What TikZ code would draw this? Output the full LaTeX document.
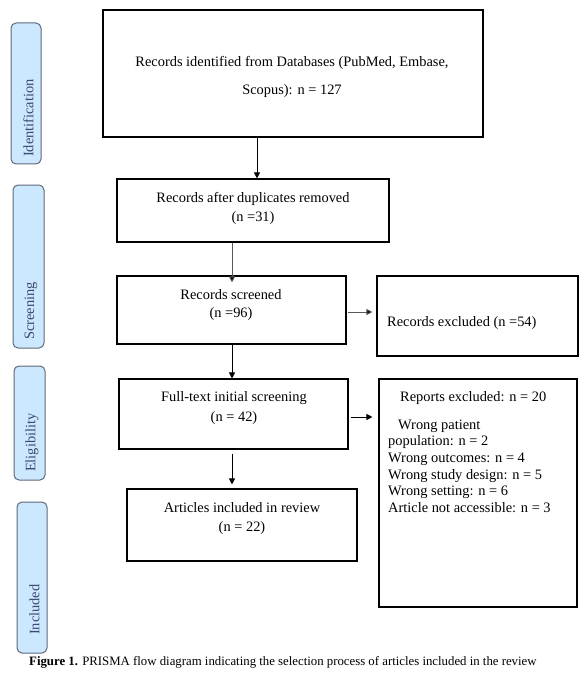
\documentclass[tikz,border=0pt]{standalone}
\usepackage{fontspec}
\setmainfont{Liberation Serif}
\usetikzlibrary{arrows.meta}
\definecolor{sideblue}{HTML}{CCE8FF}
\definecolor{sideedge}{HTML}{5F6A78}
\definecolor{sidetext}{HTML}{3A4770}
\begin{document}
\begin{tikzpicture}[x=1pt,y=-1pt,
  box/.style={draw, line width=1.1pt, inner sep=0pt, rectangle},
  side/.style={draw=sideedge, fill=sideblue, rounded corners=5pt, line width=1pt, inner sep=0pt, rectangle},
  sidetxt/.style={rotate=90, anchor=west, text=sidetext, font=\fontsize{14.4}{17}\selectfont, inner sep=0pt},
  txt/.style={anchor=base, font=\fontsize{14.4}{17}\selectfont, inner sep=0pt},
  ltxt/.style={anchor=base west, font=\fontsize{14.4}{17}\selectfont, inner sep=0pt},
  arr/.style={-{Triangle[length=6pt,width=6pt]}, line width=1pt},
  garr/.style={arr, draw=black!65, -{Triangle[length=6pt,width=6pt, fill=black]}}]
\useasboundingbox (0,0) rectangle (588,679);
\fill[white] (0,0) rectangle (588,679);

% side labels
\node[side, minimum width=30pt, minimum height=141pt] (s1) at (26,93.5) {};
\node[side, minimum width=31pt, minimum height=163pt] (s2) at (28.5,266.5) {};
\node[side, minimum width=31pt, minimum height=114pt] (s3) at (29.5,423) {};
\node[side, minimum width=30pt, minimum height=151pt] (s4) at (32,577.5) {};
\node[sidetxt] (s1t) at (28.5,157) {Identification};
\node[sidetxt] (s2t) at (31,340) {Screening};
\node[sidetxt] (s3t) at (32,472) {Eligibility};
\node[sidetxt] (s4t) at (34.5,635) {Included};

% main boxes
\node[box, minimum width=380pt, minimum height=127pt] (b1) at (293,73.5) {};
\node[box, minimum width=272pt, minimum height=63pt] (b2) at (253,210.5) {};
\node[box, minimum width=229pt, minimum height=68pt] (b3) at (231.5,310) {};
\node[box, minimum width=201pt, minimum height=80pt] (ex) at (477.5,316) {};
\node[box, minimum width=229pt, minimum height=70pt] (b4) at (233.5,414) {};
\node[box, minimum width=230pt, minimum height=72pt] (b5) at (242,525) {};
\node[box, minimum width=198pt, minimum height=228pt] (rep) at (478,493) {};

% texts
\node[txt] (b1a) at (292,67) {Records identified from Databases (PubMed, Embase,};
\node[txt] (b1b) at (292,94.5) {Scopus): n = 127};
\node[txt] (b2a) at (253,202.5) {Records after duplicates removed};
\node[txt] (b2b) at (253,221) {(n =31)};
\node[txt] (b3a) at (231,299) {Records screened};
\node[txt] (b3b) at (231,317.5) {(n =96)};
\node[ltxt] (exa) at (387,326.7) {Records excluded (n =54)};
\node[txt] (b4a) at (234,401.7) {Full-text initial screening};
\node[txt] (b4b) at (234,421) {(n = 42)};
\node[txt] (b5a) at (242,512.7) {Articles included in review};
\node[txt] (b5b) at (242,531) {(n = 22)};
\node[ltxt] (r0) at (400,401) {Reports excluded: n = 20};
\node[ltxt] (r1) at (398,429.3) {Wrong patient};
\node[ltxt] (r2) at (388,445.5) {population: n = 2};
\node[ltxt] (r3) at (388,462.3) {Wrong outcomes: n = 4};
\node[ltxt] (r4) at (388,479) {Wrong study design: n = 5};
\node[ltxt] (r5) at (388,495.7) {Wrong setting: n = 6};
\node[ltxt] (r6) at (388,512.7) {Article not accessible: n = 3};

% caption
\node[anchor=base west, inner sep=0pt, font=\fontsize{12.8}{15}\selectfont] (cap) at (29,665)
  {\textbf{Figure 1.} PRISMA flow diagram indicating the selection process of articles included in the review};

% connectors
\coordinate (xa) at (257,0);
\coordinate (xb) at (232,0);
\coordinate (ya) at (0,312);
\coordinate (yb) at (0,417);
\draw[arr] (b1.south -| xa) -- (b2.north -| xa);
\draw[garr] (b2.south -| xb) -- ([yshift=-7pt]b3.north -| xb);
\draw[garr] ([xshift=1pt]b3.east |- ya) -- ([xshift=-4pt]ex.west |- ya);
\draw[arr] (b3.south -| xb) -- (b4.north -| xb);
\draw[arr] ([xshift=2pt]b4.east |- yb) -- ([xshift=-6pt]rep.west |- yb);
\draw[arr] ([yshift=-4pt]b4.south -| xb) -- ([yshift=4pt]b5.north -| xb);
\end{tikzpicture}
\end{document}
